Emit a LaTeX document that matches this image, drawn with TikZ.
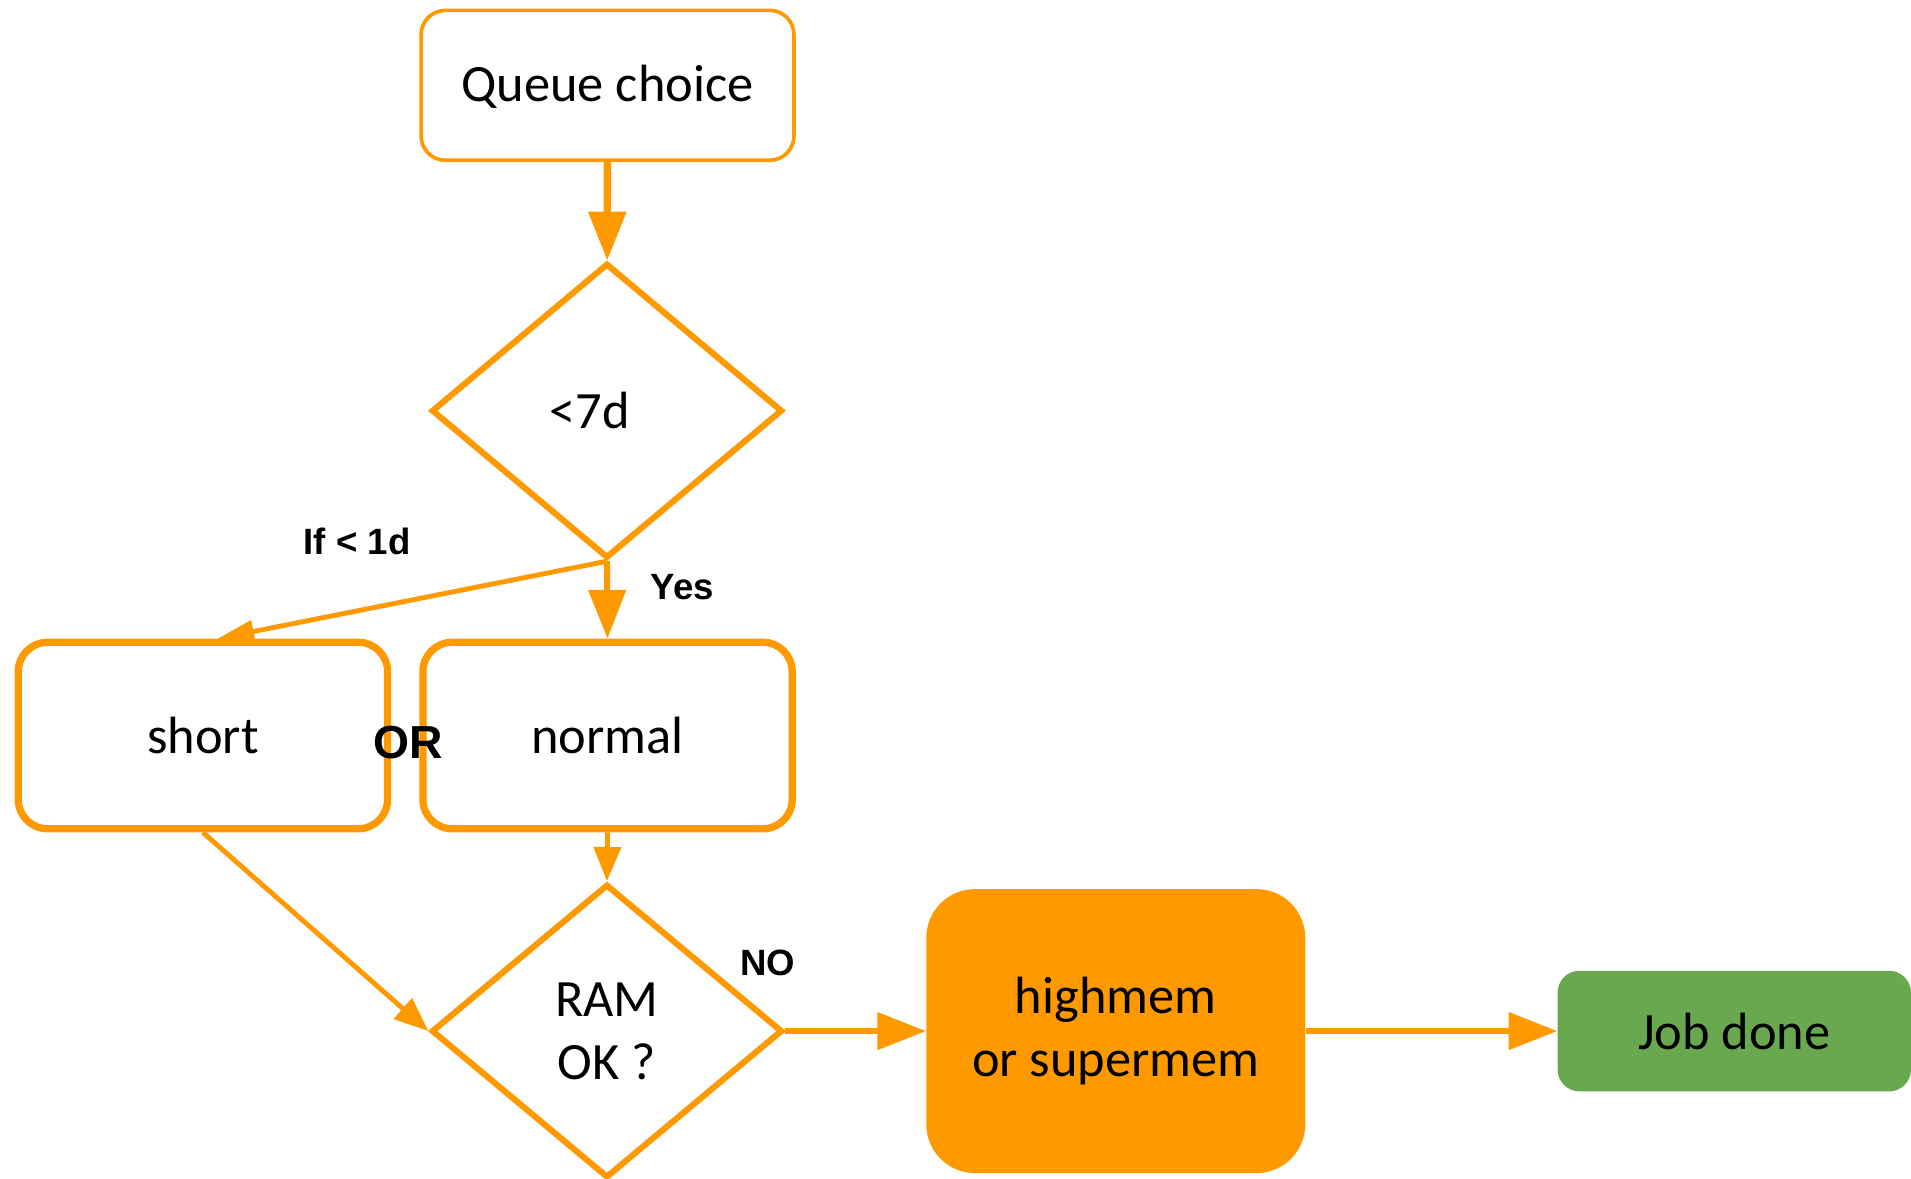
\documentclass[tikz,border=0pt]{standalone}
\usepackage{fontspec}
\setmainfont{Carlito}
\newfontfamily\labfont{Liberation Sans}
\usetikzlibrary{shapes.geometric,arrows.meta}
\definecolor{orng}{RGB}{255,153,0}
\definecolor{grn}{RGB}{106,168,79}
\tikzset{
  boxtext/.style={font=\fontsize{43}{52}\selectfont, text=black, align=center},
  startbox/.style={boxtext, draw=orng, line width=3pt, rounded corners=20pt},
  queuebox/.style={boxtext, draw=orng, line width=6pt, rounded corners=24pt},
  decision/.style={boxtext, diamond, draw=orng, line width=5pt, inner sep=0pt},
  filledbox/.style={boxtext, fill=orng, rounded corners=40pt},
  donebox/.style={boxtext, fill=grn, rounded corners=18pt},
  lab/.style={font=\labfont\bfseries\fontsize{30}{34}\selectfont, text=black},
  bigarrow/.style={draw=orng, line width=5pt, -{Triangle[length=40pt,width=30pt]}},
  midarrow/.style={draw=orng, line width=4pt, -{Triangle[length=28pt,width=22pt]}},
}
\begin{document}
\begin{tikzpicture}[x=1pt,y=-1pt]
\useasboundingbox[fill=white] (0,0) rectangle (1568,967);
\node[startbox, minimum width=306pt, minimum height=123pt, text depth=4pt] (queue) at (498.5,70) {Queue choice};
\node[decision, minimum width=288pt, minimum height=242pt] (d7) at (498,337) {\hspace*{-28pt}<7d};
\node[queuebox, minimum width=303pt, minimum height=153pt] (short) at (166.5,603.5) {short};
\node[queuebox, minimum width=303pt, minimum height=153pt] (normal) at (498.5,603.5) {normal};
\node[decision, minimum width=288pt, minimum height=241pt] (ram) at (498,846) {RAM\\OK ?};
\node[filledbox, minimum width=311pt, minimum height=233pt] (high) at (915.5,846) {highmem\\or supermem};
\node[donebox, minimum width=290pt, minimum height=99pt] (job) at (1423,846) {Job done};

\node[lab] (if1d) at (293,444) {If < 1d};
\node[lab] (yes) at (560,482) {Yes};
\node[lab, font=\labfont\bfseries\fontsize{38}{44}\selectfont] (or) at (335,609) {OR};
\node[lab] (no) at (630,790) {NO};

\draw[bigarrow, line width=6pt] (queue) -- (d7);
\draw[midarrow, -{Triangle[length=30pt,width=18pt]}] (d7.south) -- ([xshift=12pt]short.north);
\draw[bigarrow] (d7.south) -- (normal.north);
\draw[midarrow] (normal.south) -- (ram.north);
\draw[midarrow] (short.south) -- (ram.west);
\draw[bigarrow] (ram.east) -- (high.west);
\draw[bigarrow] (high.east) -- (job.west);
\end{tikzpicture}
\end{document}
